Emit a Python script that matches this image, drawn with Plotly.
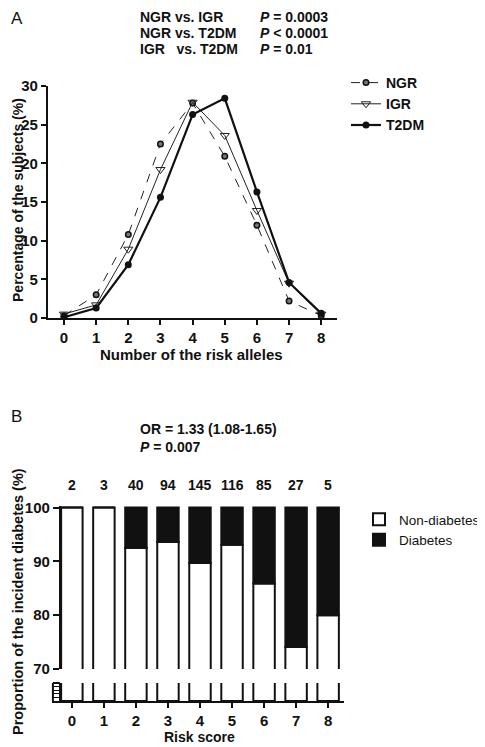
import plotly.graph_objects as go

# page body has an 8px default margin: figure is sized to fit the window
OFF = 8
W, H = 485 - OFF, 747 - OFF
FONT = "Liberation Sans, Arial, sans-serif"

# ---------------- Panel A data ----------------
alleles = [0, 1, 2, 3, 4, 5, 6, 7, 8]
ngr = [0.3, 3.0, 10.8, 22.5, 27.8, 20.9, 12.0, 2.2, 0.3]
igr = [0.5, 1.7, 8.9, 19.2, 27.9, 23.6, 13.9, 4.5, 0.5]
t2dm = [0.1, 1.3, 6.9, 15.6, 26.3, 28.4, 16.3, 4.6, 0.6]
a_yticks = [0, 5, 10, 15, 20, 25, 30]

# ---------------- Panel B data ----------------
scores = [0, 1, 2, 3, 4, 5, 6, 7, 8]
counts = [2, 3, 40, 94, 145, 116, 85, 27, 5]
non_diabetes = [100, 100, 92.5, 93.6, 89.7, 93.1, 85.9, 74.1, 80.0]
diabetes = [0, 0, 7.5, 6.4, 10.3, 6.9, 14.1, 25.9, 20.0]
b_yticks = [70, 80, 90, 100]


def px(x):
    return (x - OFF) / W


def py(y):
    return 1 - (y - OFF) / H


fig = go.Figure()

# Panel A lines
fig.add_trace(go.Scatter(
    x=alleles, y=ngr, name="NGR", mode="lines+markers",
    line=dict(color="#222", width=1, dash="dash"),
    marker=dict(symbol="circle", size=5.5, color="#777", line=dict(color="#111", width=1.5)),
    xaxis="x", yaxis="y", legend="legend", legendgroup="a1"))
fig.add_trace(go.Scatter(
    x=alleles, y=igr, name="IGR", mode="lines+markers",
    line=dict(color="#222", width=1),
    marker=dict(symbol="triangle-down-open", size=8, color="#222", line=dict(width=1)),
    xaxis="x", yaxis="y", legend="legend", legendgroup="a2"))
fig.add_trace(go.Scatter(
    x=alleles, y=t2dm, name="T2DM", mode="lines+markers",
    line=dict(color="#111", width=2.2),
    marker=dict(symbol="circle", size=7, color="#111"),
    xaxis="x", yaxis="y", legend="legend", legendgroup="a3"))

# Panel B bars (upper segment)
BW = 0.67
fig.add_trace(go.Bar(
    x=scores, y=non_diabetes, name="Non-diabetes", width=BW,
    marker=dict(color="white", line=dict(color="#111", width=2)),
    xaxis="x2", yaxis="y3", legend="legend2"))
fig.add_trace(go.Bar(
    x=scores, y=diabetes, base=non_diabetes, name="Diabetes", width=BW,
    marker=dict(color="#111", line=dict(color="#111", width=2)),
    xaxis="x2", yaxis="y3", legend="legend2"))
# Panel B bars (lower segment of broken axis)
fig.add_trace(go.Bar(
    x=scores, y=non_diabetes, width=BW, showlegend=False,
    marker=dict(color="white", line=dict(color="#111", width=2)),
    xaxis="x2", yaxis="y4"))

tickfont = dict(family=FONT, size=15, color="#111", weight="bold")
axcommon = dict(showline=True, linecolor="#111", linewidth=2, ticks="outside",
                tickcolor="#111", tickwidth=2, ticklen=5, showgrid=False,
                zeroline=False, tickfont=tickfont, automargin=False)

annotations = []


def ann(text, x, y, size=14, bold=False, xanchor="left", angle=0, xref="paper"):
    annotations.append(dict(
        text=text, x=x, y=y, xref=xref, yref="paper", xanchor=xanchor,
        yanchor="middle", showarrow=False, textangle=angle,
        font=dict(family=FONT, size=size, color="#111",
                  weight="bold" if bold else "normal")))


# Panel A texts
ann("A", px(9), py(18), size=17)
ann("NGR vs. IGR", px(138), py(17), bold=True)
ann("NGR vs. T2DM", px(138), py(33), bold=True)
ann("IGR\u00a0\u00a0 vs. T2DM", px(138), py(49), bold=True)
ann("<i>P</i> = 0.0003", px(259), py(17), bold=True)
ann("<i>P</i> &lt; 0.0001", px(259), py(33), bold=True)
ann("<i>P</i> = 0.01", px(259), py(49), bold=True)
ann("Percentage of the subjects (%)", px(18), py(200), size=14, bold=True,
    xanchor="center", angle=-90)
ann("Number of the risk alleles", px(192), py(355), size=15, bold=True, xanchor="center")

# Panel B texts
ann("B", px(9), py(416), size=17)
ann("OR = 1.33 (1.08-1.65)", px(138), py(429), bold=True)
ann("<i>P</i> = 0.007", px(138), py(447), bold=True)
for s, c in zip(scores, counts):
    ann(str(c), s, py(485), bold=True, xanchor="center", xref="x2")
ann("Proportion of the incident diabetes (%)", px(18), py(601), size=14.5, bold=True,
    xanchor="center", angle=-90)
ann("Risk score", px(200), py(737), size=14, bold=True, xanchor="center")

# x2 range so that score 0 sits at 72px and 8 at 329px
x2_left, x2_right = 52, 345
unit = 32.1
x2_range = [-(72 - x2_left) / unit, (x2_right - 72) / unit]

fig.update_layout(
    width=W, height=H, template="none",
    margin=dict(l=0, r=0, t=0, b=0),
    paper_bgcolor="white", plot_bgcolor="rgba(0,0,0,0)",
    barmode="overlay",
    font=dict(family=FONT, color="#111"),
    xaxis=dict(domain=[px(48), px(338)], range=[-0.5, 8.5], tickvals=alleles,
               anchor="y", **axcommon),
    yaxis=dict(domain=[py(318), py(86)], range=[0, 30], tickvals=a_yticks,
               anchor="x", **axcommon),
    xaxis2=dict(domain=[px(x2_left), px(x2_right)], range=x2_range, tickvals=scores,
                anchor="y4", **axcommon),
    yaxis3=dict(domain=[py(669), py(506)], range=[70, 100.3], tickvals=b_yticks,
                anchor="free", position=px(60), **{**axcommon, "ticklen": 6}),
    yaxis4=dict(domain=[py(701), py(683)], range=[0, 5], tickvals=[0, 1, 2, 3, 4, 5],
                anchor="free", position=px(60), showticklabels=False,
                **{k: v for k, v in axcommon.items() if k not in ("tickwidth", "ticklen")},
                tickwidth=1, ticklen=7),
    legend=dict(x=px(346), y=py(67), xanchor="left", yanchor="top",
                bgcolor="rgba(0,0,0,0)", traceorder="grouped", tracegroupgap=0,
                itemwidth=30,
                font=dict(family=FONT, size=14, color="#111", weight="bold")),
    legend2=dict(x=px(360), y=py(504), xanchor="left", yanchor="top",
                 bgcolor="rgba(0,0,0,0)", traceorder="normal",
                 font=dict(family=FONT, size=13.5, color="#111")),
    annotations=annotations,
    showlegend=True,
)

# left rail of the broken-axis bracket (axis decoration)
fig.add_shape(type="line", xref="paper", yref="paper",
              x0=px(53), x1=px(53), y0=py(701), y1=py(683),
              line=dict(color="#111", width=2))
fig.add_shape(type="line", xref="paper", yref="paper",
              x0=px(53), x1=px(60), y0=py(683), y1=py(683),
              line=dict(color="#111", width=2))

fig.write_html("out.html")
